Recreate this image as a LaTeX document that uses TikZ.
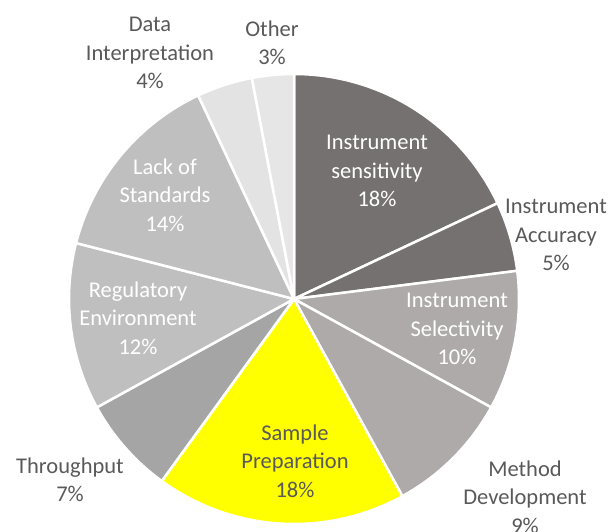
\documentclass[tikz,border=0pt]{standalone}
\usepackage{fontspec}
\setmainfont{Carlito}
\definecolor{darkslice}{HTML}{767171}
\definecolor{midslice}{HTML}{AEAAAA}
\definecolor{thrslice}{HTML}{A5A5A5}
\definecolor{lightslice}{HTML}{BFBFBF}
\definecolor{paleslice}{HTML}{E3E3E3}
\definecolor{otherslice}{HTML}{E7E6E6}
\definecolor{hilite}{HTML}{FFFF00}
\definecolor{labelgray}{HTML}{595959}
\tikzset{
  lbl/.style={align=center, font=\fontsize{22.5}{28.5}\selectfont},
  inlbl/.style={lbl, text=white},
  outlbl/.style={lbl, text=labelgray}
}
\begin{document}
\begin{tikzpicture}[x=1pt,y=1pt]
\useasboundingbox (0,0) rectangle (611,532);
\coordinate (c) at (294,233);
% slices, clockwise from the top
\foreach \a/\b/\col in {90/25.2/darkslice, 25.2/7.2/darkslice, 7.2/-28.8/midslice,
    -28.8/-61.2/midslice, -61.2/-126/hilite, -126/-151.2/thrslice,
    -151.2/-194.4/lightslice, -194.4/-244.8/lightslice, -244.8/-259.2/paleslice,
    -259.2/-270/otherslice}
  \filldraw[fill=\col, draw=white, line width=2.5pt, line join=round]
    (c) -- ++(\a:225pt) arc[start angle=\a, end angle=\b, radius=225pt] -- cycle;
% labels
\node[inlbl] (sens) at (377,361) {Instrument\\sensitivity\\18\%};
\node[outlbl] (acc) at (556,297) {Instrument\\Accuracy\\5\%};
\node[inlbl] (sel) at (457,203) {Instrument\\Selectivity\\10\%};
\node[outlbl] (meth) at (525,35) {Method\\Development\\9\%};
\node[lbl, text=labelgray] (samp) at (295,71) {Sample\\Preparation\\18\%};
\node[outlbl] (thr) at (70,52) {Throughput\\7\%};
\node[inlbl] (reg) at (138,214) {Regulatory\\Environment\\12\%};
\node[inlbl] (lack) at (165,337) {Lack of\\Standards\\14\%};
\node[outlbl] (data) at (150,479) {Data\\Interpretation\\4\%};
\node[outlbl] (other) at (272,489) {Other\\3\%};
\end{tikzpicture}
\end{document}
